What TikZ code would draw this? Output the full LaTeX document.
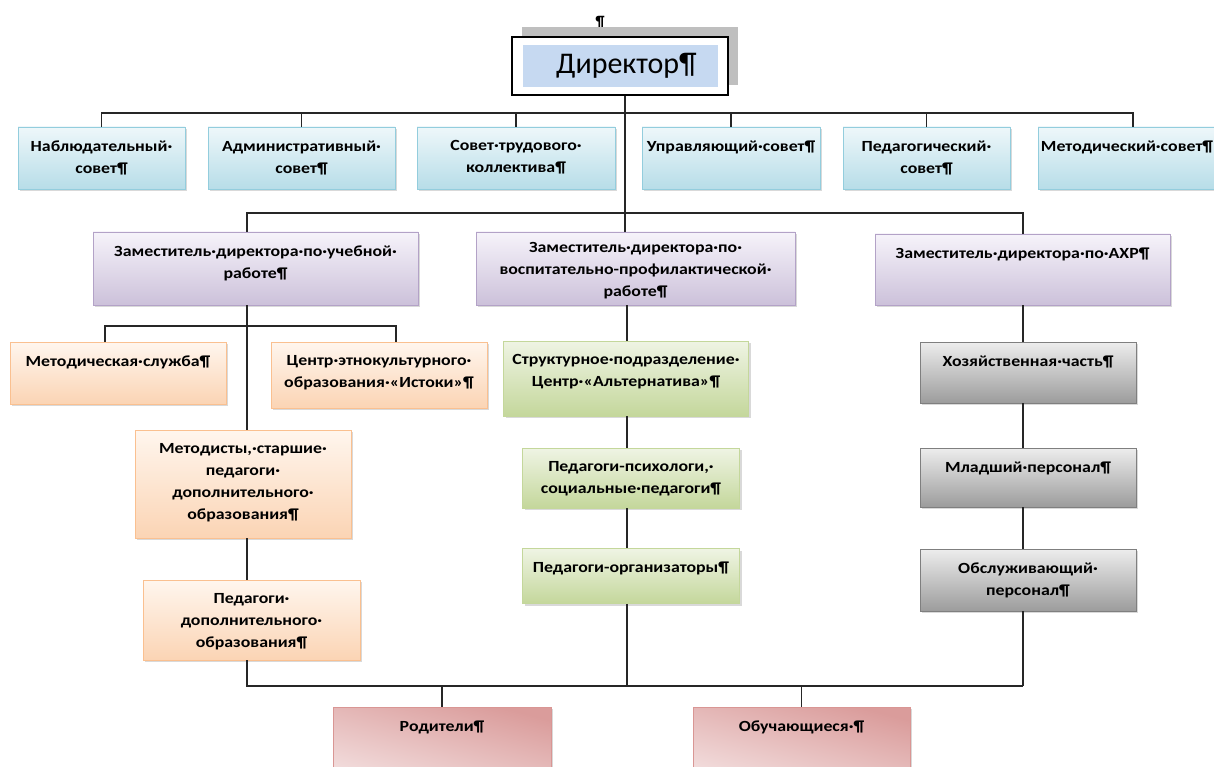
\documentclass[tikz,border=0pt]{standalone}
\usepackage{fontspec}
\setmainfont{Carlito}
\newfontfamily\boxfont[FakeStretch=1.15]{Carlito}
\usetikzlibrary{positioning,shadows}

\definecolor{sovettop}{HTML}{EEF7FA}
\definecolor{sovetbot}{HTML}{B7DDE8}
\definecolor{sovetline}{HTML}{93CDDD}
\definecolor{zamtop}{HTML}{F6F3FA}
\definecolor{zambot}{HTML}{CCC1DA}
\definecolor{zamline}{HTML}{B3A2C7}
\definecolor{oranztop}{HTML}{FFF6EE}
\definecolor{oranzbot}{HTML}{FBD4B4}
\definecolor{oranzline}{HTML}{FAC090}
\definecolor{zeltop}{HTML}{EFF4E4}
\definecolor{zelbot}{HTML}{C4D79B}
\definecolor{zelline}{HTML}{C4D79B}
\definecolor{sertop}{HTML}{EDEDED}
\definecolor{serbot}{HTML}{9C9C9C}
\definecolor{serline}{HTML}{7F7F7F}
\definecolor{roztop}{HTML}{DA9C9B}
\definecolor{rozmid}{HTML}{F4E2E2}
\definecolor{rozline}{HTML}{D99694}
\definecolor{dirfill}{HTML}{C6D9F1}

\tikzset{
  box/.style={draw, line width=0.9pt, drop shadow={shadow xshift=2pt,shadow yshift=-2pt,opacity=.3}},
  sovet/.style={box, draw=sovetline, top color=sovettop, bottom color=sovetbot, minimum height=62pt},
  zam/.style={box, draw=zamline, top color=zamtop, bottom color=zambot},
  oranz/.style={box, draw=oranzline, top color=oranztop, bottom color=oranzbot},
  zel/.style={box, draw=zelline, top color=zeltop, bottom color=zelbot},
  ser/.style={box, draw=serline, top color=sertop, bottom color=serbot},
  roz/.style={box, draw=rozline, top color=roztop, bottom color=rozmid, shading angle=-15},
  lbl/.style={font=\boxfont\bfseries\fontsize{15.5}{22}\selectfont, align=center, inner sep=0pt, anchor=north, yshift=-14pt},
  conn/.style={line width=1.4pt, black!85}
}

\begin{document}
\begin{tikzpicture}[x=1pt,y=-1pt]
        \path[use as bounding box] (0,0) rectangle (1214,767);
        \clip (0,0) rectangle (1214,767);

        \node[font=\bfseries\fontsize{15}{15}\selectfont] (mark) at (600,22) {¶};
        \node[draw, line width=1.6pt, fill=white, minimum width=216pt, minimum height=58pt,
              drop shadow={shadow xshift=10pt,shadow yshift=10pt,fill=black!25,opacity=1}] (dir) at (620,66) {};
        \node[fill=dirfill, minimum width=195pt, minimum height=42pt, font=\fontsize{30}{30}\selectfont] (dirname) at (620.5,66) {\hspace{12pt}Директор¶};

        \node[sovet, minimum width=167pt, label={[lbl]90:Наблюдательный·\\совет¶}] (c1) at (101.5,158) {};
        \node[sovet, minimum width=187pt, label={[lbl]90:Административный·\\совет¶}] (c2) at (301.5,158) {};
        \node[sovet, minimum width=198pt, label={[lbl]90:Совет·трудового·\\коллектива¶}] (c3) at (516,158) {};
        \node[sovet, minimum width=178pt, label={[lbl]90:Управляющий·совет¶}] (c4) at (731,158) {};
        \node[sovet, minimum width=167pt, label={[lbl]90:Педагогический·\\совет¶}] (c5) at (926.5,158) {};
        \node[sovet, minimum width=190pt, label={[lbl,xshift=-6pt]90:Методический·совет¶}] (c6) at (1133,158) {};

        \node[zam, minimum width=325pt, minimum height=73pt, label={[lbl]90:Заместитель·директора·по·учебной·\\работе¶}] (d1) at (255.5,268.5) {};
        \node[zam, minimum width=319pt, minimum height=73pt, label={[lbl,yshift=3pt]90:Заместитель·директора·по·\\воспитательно-профилактической·\\работе¶}] (d2) at (635.5,268.5) {};
        \node[zam, minimum width=295pt, minimum height=71pt, label={[lbl]90:Заместитель·директора·по·АХР¶}] (d3) at (1022.5,269.5) {};

        \node[oranz, minimum width=216pt, minimum height=62pt, label={[lbl]90:Методическая·служба¶}] (o1) at (118,373) {};
        \node[oranz, minimum width=216pt, minimum height=66pt, label={[lbl]90:Центр·этнокультурного·\\образования·«Истоки»¶}] (o2) at (379,375) {};
        \node[oranz, minimum width=216pt, minimum height=108pt, label={[lbl]90:Методисты,·старшие·\\педагоги·\\дополнительного·\\образования¶}] (o3) at (243,484) {};
        \node[oranz, minimum width=217pt, minimum height=80pt, label={[lbl]90:Педагоги·\\дополнительного·\\образования¶}] (o4) at (251.5,620) {};

        \node[zel, minimum width=245pt, minimum height=75pt, label={[lbl]90:Структурное·подразделение·\\Центр·«Альтернатива»¶}] (g1) at (626,378.5) {};
        \node[zel, minimum width=217pt, minimum height=60pt, label={[lbl]90:Педагоги-психологи,·\\социальные·педагоги¶}] (g2) at (631,478) {};
        \node[zel, minimum width=217pt, minimum height=55pt, label={[lbl]90:Педагоги-организаторы¶}] (g3) at (631,576) {};

        \node[ser, minimum width=216pt, minimum height=61pt, label={[lbl]90:Хозяйственная·часть¶}] (h1) at (1028,372.5) {};
        \node[ser, minimum width=216pt, minimum height=59pt, label={[lbl]90:Младший·персонал¶}] (h2) at (1028,477.5) {};
        \node[ser, minimum width=216pt, minimum height=62pt, label={[lbl]90:Обслуживающий·\\персонал¶}] (h3) at (1028,580) {};

        \node[roz, minimum width=218pt, minimum height=84pt, label={[lbl]90:Родители¶}] (p1) at (442,749) {};
        \node[roz, minimum width=217pt, minimum height=84pt, label={[lbl]90:Обучающиеся·¶}] (p2) at (801.5,749) {};

        \coordinate (cbus) at (625,113);
        \coordinate (dbus) at (625,213);
        \coordinate (lbus) at (247,326);
        \coordinate (bbus) at (627,686);
        \coordinate (rbus) at (1023,686);

        \draw[conn] (dir.south -| dbus) -- (dbus);
        \draw[conn] (c1.north) |- (cbus) -| (c6.north);
        \foreach \n in {c2,c3,c4,c5}
            \draw[conn] (\n.north) -- (\n.north |- cbus);
        \draw[conn] (d1.north -| lbus) |- (dbus) -| (d3.north -| rbus);
        \draw[conn] (dbus) -- (d2.north -| dbus);

        \draw[conn] (d1.south -| lbus) -- (o3.north -| lbus);
        \draw[conn] ([xshift=-13pt]o1.north) |- (lbus) -| ([xshift=17pt]o2.north);
        \draw[conn] (o3.south -| lbus) -- (o4.north -| lbus);

        \draw[conn] (d2.south -| bbus) -- (g1.north -| bbus);
        \draw[conn] (g1.south -| bbus) -- (g2.north -| bbus);
        \draw[conn] (g2.south -| bbus) -- (g3.north -| bbus);
        \draw[conn] (g3.south -| bbus) -- (bbus);

        \draw[conn] (d3.south -| rbus) -- (h1.north -| rbus);
        \draw[conn] (h1.south -| rbus) -- (h2.north -| rbus);
        \draw[conn] (h2.south -| rbus) -- (h3.north -| rbus);
        \draw[conn] (h3.south -| rbus) -- (rbus);

        \draw[conn] (o4.south -| lbus) |- (rbus);
        \draw[conn] (p1.north) -- (p1.north |- bbus);
        \draw[conn] (p2.north) -- (p2.north |- bbus);
\end{tikzpicture}
\end{document}
